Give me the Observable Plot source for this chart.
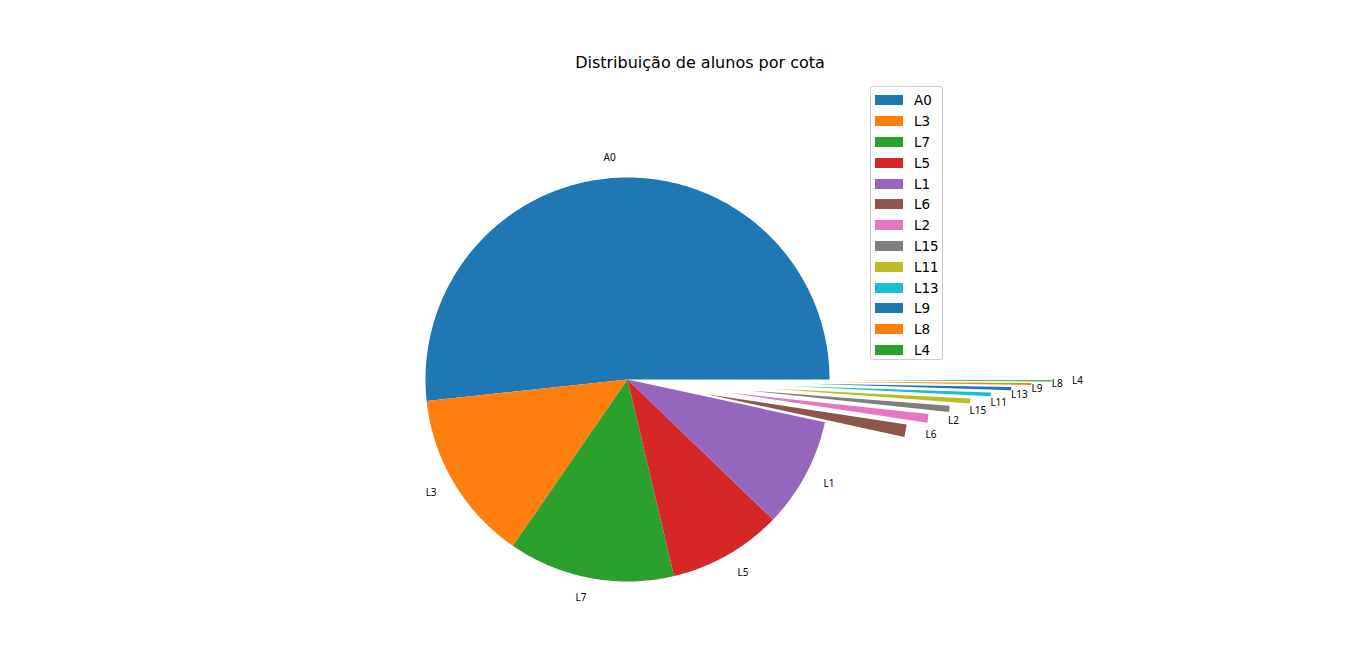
<!DOCTYPE html>
<html><head><meta charset="utf-8">
<script src="https://cdn.jsdelivr.net/npm/d3@7"></script>
<script src="https://cdn.jsdelivr.net/npm/@observablehq/plot@0.6"></script>
<style>
body{margin:0;background:#fff;font-family:"DejaVu Sans",sans-serif}
#wrap{position:relative;width:1366px;height:655px}
#title{position:absolute;left:0;width:1400px;top:53px;text-align:center;font-size:16px}
#legend{position:absolute;left:870px;top:86px;width:73px;height:274px;border:1px solid #ccc;border-radius:3px;background:#fff;font-size:13.5px;box-sizing:border-box;padding:3px 0 0 4px}
#legend div{height:20.8px;display:flex;align-items:center}
#legend span{display:inline-block;width:28px;height:10px;margin-right:11px}
</style></head><body>
<div id="wrap"><div id="myplot"></div><div id="title">Distribuição de alunos por cota</div><div id="legend"></div></div>
<script>
const labels = ["A0","L3","L7","L5","L1","L6","L2","L15","L11","L13","L9","L8","L4"];
const shares = [51.7,13.7,13.3,9.1,8.8,1.0,0.7,0.5,0.4,0.3,0.25,0.15,0.1];
const explode = [0,0,0,0,0,0.4,0.5,0.6,0.7,0.8,0.9,1.0,1.1];
const colors = ["#1f77b4","#ff7f0e","#2ca02c","#d62728","#9467bd","#8c564b","#e377c2","#7f7f7f","#bcbd22","#17becf"];

const total = d3.sum(shares);
const pts = [], texts = [];
let a0 = 0;
shares.forEach((v, i) => {
  const a1 = a0 + v / total * 2 * Math.PI;
  const mid = (a0 + a1) / 2;
  const ox = explode[i] * Math.cos(mid), oy = explode[i] * Math.sin(mid);
  pts.push({k: labels[i], x: ox, y: oy});
  const n = Math.max(2, Math.ceil((a1 - a0) / 0.01));
  for (let j = 0; j <= n; j++) {
    const a = a0 + (a1 - a0) * j / n;
    pts.push({k: labels[i], x: ox + Math.cos(a), y: oy + Math.sin(a)});
  }
  pts.push({k: labels[i], x: ox, y: oy});
  const r = 1.1 + explode[i];
  texts.push({k: labels[i], x: r * Math.cos(mid), y: r * Math.sin(mid), anchor: Math.cos(mid) >= 0 ? "start" : "end"});
  a0 = a1;
});

const R = 202, cx = 627, cy = 379;
const colorOf = Object.fromEntries(labels.map((l, i) => [l, colors[i % 10]]));
const plot = Plot.plot({
  width: 1366, height: 655, margin: 0,
  x: {axis: null, domain: [-cx / R, (1366 - cx) / R]},
  y: {axis: null, domain: [-(655 - cy) / R, cy / R]},
  marks: [
    Plot.line(pts, {x: "x", y: "y", z: "k", fill: d => colorOf[d.k], stroke: "none", curve: "linear"}),
    Plot.text(texts.filter(d => d.anchor === "start"), {x: "x", y: "y", text: "k", textAnchor: "start", fontSize: 10, fill: "#000"}),
    Plot.text(texts.filter(d => d.anchor === "end"), {x: "x", y: "y", text: "k", textAnchor: "end", fontSize: 10, fill: "#000"})
  ]
});
document.querySelector("#myplot").append(plot);

const lg = document.querySelector("#legend");
labels.forEach((l, i) => {
  const d = document.createElement("div");
  d.innerHTML = `<span style="background:${colors[i % 10]}"></span>${l}`;
  lg.append(d);
});
</script>
</body></html>
